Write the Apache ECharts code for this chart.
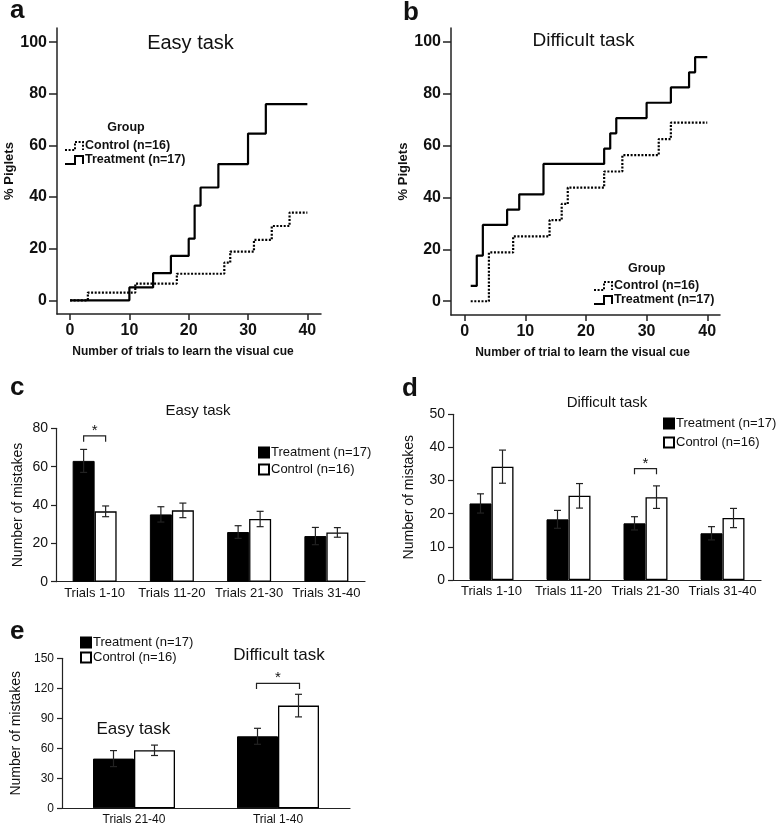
<!DOCTYPE html>
<html>
<head>
<meta charset="utf-8">
<script src="https://cdn.jsdelivr.net/npm/echarts@6/dist/echarts.min.js"></script>
<style>
html,body{margin:0;padding:0;background:#fff;}
#chart{width:777px;height:826px;}
</style>
</head>
<body>
<div id="chart"></div>
<script>
// ---------- DATA ----------
// Panel a: cumulative % piglets that learned, easy task (step change points)
const kmEasyTrtX  = [0, 10, 14, 17, 20, 21, 22, 25, 30, 33, 40];
const kmEasyTrtY  = [0, 5.0, 10.5, 17.2, 23.9, 36.7, 43.7, 52.8, 64.6, 76.0, 76.0];
const kmEasyCtrlX = [0, 3, 11, 18, 26, 27, 31, 34, 37, 40];
const kmEasyCtrlY = [0, 3.0, 6.5, 10.3, 14.6, 18.9, 23.4, 28.8, 34.0, 34.0];
// Panel b: difficult task
const kmDiffTrtX  = [1, 2, 3, 7, 9, 13, 23, 24, 25, 30, 34, 37, 38, 40];
const kmDiffTrtY  = [5.9, 17.6, 29.4, 35.3, 41.2, 52.9, 58.8, 64.7, 70.6, 76.5, 82.4, 88.2, 94.1, 94.1];
const kmDiffCtrlX = [1, 4, 8, 14, 16, 17, 23, 26, 32, 34, 40];
const kmDiffCtrlY = [0, 18.8, 25.0, 31.3, 37.5, 43.8, 50.0, 56.3, 62.5, 68.8, 68.8];
const pctTicks   = [0, 20, 40, 60, 80, 100];
const trialTicks = [0, 10, 20, 30, 40];

// Panels c, d: mistakes per block of trials
const blockCats    = ['Trials 1-10', 'Trials 11-20', 'Trials 21-30', 'Trials 31-40'];
const easyTrtMean  = [63.0, 35.1, 25.9, 23.8];
const easyTrtSem   = [6.0, 4.0, 3.3, 4.5];
const easyCtrlMean = [36.7, 37.2, 32.7, 25.7];
const easyCtrlSem  = [2.8, 3.8, 4.0, 2.5];
const diffTrtMean  = [23.1, 18.3, 17.1, 14.1];
const diffTrtSem   = [2.9, 2.7, 2.0, 2.0];
const diffCtrlMean = [34.2, 25.4, 25.0, 18.7];
const diffCtrlSem  = [5.0, 3.7, 3.4, 2.9];
// Panel e: total mistakes
const totalCats     = ['Trials 21-40', 'Trial 1-40'];
const totalTrtMean  = [49.7, 72.0];
const totalTrtSem   = [8.0, 8.0];
const totalCtrlMean = [58.0, 102.7];
const totalCtrlSem  = [5.2, 11.3];
// significance brackets: [category index, bracket top, bracket foot]
const sigC = [0, 76.1, 73.0];
const sigD = [2, 33.6, 31.9];
const sigE = [1, 125.0, 119.3];

const TRT = 'Treatment (n=17)';
const CTRL = 'Control (n=16)';

// ---------- HELPERS ----------
const FONT = "'Liberation Sans', Arial, sans-serif";
const INK = '#111';
function pairs(xs, ys) { return xs.map((x, i) => [x, ys[i]]); }

function kmXAxis(grid, min, max, name, pad) {
  return {
    type: 'value', gridIndex: grid, min: min, max: max,
    axisLine: {show: true, onZero: false, lineStyle: {color: '#222', width: 1.5}},
    axisTick: {show: true, length: 6, customValues: trialTicks, lineStyle: {color: '#222', width: 1.5}},
    axisLabel: {customValues: trialTicks, margin: 9, fontSize: 16, fontWeight: 'bold', color: INK, fontFamily: FONT},
    splitLine: {show: false},
    name: name, nameLocation: 'middle', nameGap: 32,
    nameTextStyle: {fontSize: 12, fontWeight: 'bold', color: INK, fontFamily: FONT, padding: pad}
  };
}
function kmYAxis(grid, min, max, gap) {
  return {
    type: 'value', gridIndex: grid, min: min, max: max,
    axisLine: {show: true, onZero: false, lineStyle: {color: '#222', width: 1.5}},
    axisTick: {show: true, length: 8, customValues: pctTicks, lineStyle: {color: '#222', width: 1.5}},
    axisLabel: {customValues: pctTicks, margin: 10, fontSize: 16, fontWeight: 'bold', color: INK, fontFamily: FONT},
    splitLine: {show: false},
    name: '% Piglets', nameLocation: 'middle', nameGap: gap, nameRotate: 90,
    nameTextStyle: {fontSize: 13, fontWeight: 'bold', color: INK, fontFamily: FONT}
  };
}
function catAxis(grid, cats, fs) {
  return {
    type: 'category', gridIndex: grid, data: cats,
    axisLine: {show: true, lineStyle: {color: '#222', width: 1.2}},
    axisTick: {show: false},
    axisLabel: {fontSize: fs, color: INK, fontFamily: FONT, margin: 5, interval: 0}
  };
}
function numAxis(grid, max, interval, fs, gap) {
  return {
    type: 'value', gridIndex: grid, min: 0, max: max, interval: interval,
    axisLine: {show: true, lineStyle: {color: '#222', width: 1.2}},
    axisTick: {show: true, length: 5, lineStyle: {color: '#222', width: 1.2}},
    axisLabel: {fontSize: fs, color: INK, fontFamily: FONT, margin: 8},
    splitLine: {show: false},
    name: 'Number of mistakes', nameLocation: 'middle', nameGap: gap, nameRotate: 90,
    nameTextStyle: {fontSize: 14, color: INK, fontFamily: FONT}
  };
}
function stepLine(grid, name, xs, ys, dotted) {
  return {
    type: 'line', name: name, xAxisIndex: grid, yAxisIndex: grid,
    step: 'end', symbol: 'none', silent: true,
    data: pairs(xs, ys),
    lineStyle: {color: '#000', width: 2.2, type: dotted ? [2, 1.6] : 'solid'},
    z: dotted ? 3 : 4
  };
}
function bars(grid, name, vals, w, ctrl) {
  return {
    type: 'bar', name: name, xAxisIndex: grid, yAxisIndex: grid,
    data: vals, barWidth: w, barGap: '0%',
    itemStyle: ctrl ? {color: '#fff', borderColor: '#000', borderWidth: 1.3}
                    : {color: '#000', borderColor: '#000', borderWidth: 1},
    silent: true
  };
}
function errBars(grid, means, sems, off) {
  return {
    type: 'custom', xAxisIndex: grid, yAxisIndex: grid, silent: true, z: 5,
    data: means.map((m, i) => [i, m, sems[i]]),
    encode: {x: 0, y: 1},
    renderItem: function (p, api) {
      const i = api.value(0), m = api.value(1), s = api.value(2);
      const hi = api.coord([i, m + s]), lo = api.coord([i, m - s]);
      const x = hi[0] + off, cap = 3.5;
      const st = {stroke: '#222', lineWidth: 1.2};
      return {type: 'group', children: [
        {type: 'line', shape: {x1: x, y1: hi[1], x2: x, y2: lo[1]}, style: st},
        {type: 'line', shape: {x1: x - cap, y1: hi[1], x2: x + cap, y2: hi[1]}, style: st},
        {type: 'line', shape: {x1: x - cap, y1: lo[1], x2: x + cap, y2: lo[1]}, style: st}
      ]};
    }
  };
}
function sigBracket(grid, sig, off) {
  return {
    type: 'custom', xAxisIndex: grid, yAxisIndex: grid, silent: true, z: 5,
    data: [sig], encode: {x: 0, y: 1},
    renderItem: function (p, api) {
      const top = api.coord([api.value(0), api.value(1)]);
      const foot = api.coord([api.value(0), api.value(2)]);
      const x1 = top[0] - off, x2 = top[0] + off;
      return {type: 'group', children: [
        {type: 'polyline', shape: {points: [[x1, foot[1]], [x1, top[1]], [x2, top[1]], [x2, foot[1]]]},
         style: {stroke: '#222', lineWidth: 1.2, fill: null}},
        {type: 'text', x: top[0], y: top[1] - 5,
         style: {text: '*', fontSize: 15, fontFamily: FONT, fill: INK, align: 'center', verticalAlign: 'middle'}}
      ]};
    }
  };
}
function txt(t, x, y, size, weight, align) {
  return {type: 'text', x: x, y: y, silent: true,
    style: {text: t, fontSize: size, fontWeight: weight || 'normal', fontFamily: FONT,
            fill: INK, align: align || 'left', verticalAlign: 'middle'}};
}
function stepIcon(x0, yb, dotted) {
  return {type: 'polyline', silent: true,
    shape: {points: [[x0, yb], [x0 + 10, yb], [x0 + 10, yb - 8], [x0 + 18, yb - 8], [x0 + 18, yb]]},
    style: {stroke: '#000', lineWidth: 2, fill: null, lineDash: dotted ? [2, 1.6] : null}};
}
function barLegend(left, top, gap) {
  return {
    orient: 'vertical', left: left, top: top, padding: 0, itemGap: gap,
    itemWidth: 10, itemHeight: 10, icon: 'rect', selectedMode: false,
    data: [TRT, CTRL],
    textStyle: {fontSize: 13, color: INK, fontFamily: FONT, padding: [0, 0, 0, -3]}
  };
}

// ---------- OPTION ----------
const option = {
  animation: false,
  backgroundColor: '#fff',
  textStyle: {fontFamily: FONT},
  grid: [
    {left: 57, top: 28, width: 264, height: 286},
    {left: 451, top: 28, width: 269, height: 287},
    {left: 56, top: 428.3, width: 309, height: 153.4},
    {left: 453, top: 414.3, width: 308, height: 165.7},
    {left: 62, top: 658.3, width: 288, height: 150}
  ],
  xAxis: [
    kmXAxis(0, -2.2, 42.3, 'Number of trials to learn the visual cue', [0, 12, 0, 0]),
    kmXAxis(1, -2.25, 42.1, 'Number of trial to learn the visual cue', [0, 6, 0, 0]),
    catAxis(2, blockCats, 13),
    catAxis(3, blockCats, 13),
    catAxis(4, totalCats, 12)
  ],
  yAxis: [
    kmYAxis(0, -5.3, 105.5, 40),
    kmYAxis(1, -5.3, 105.3, 39),
    numAxis(2, 80, 20, 14, 31),
    numAxis(3, 50, 10, 14, 37),
    numAxis(4, 150, 30, 12, 39)
  ],
  legend: [
    barLegend(258, 446, 4),
    barLegend(663, 417, 6),
    barLegend(80, 636, 2)
  ],
  series: [
    stepLine(0, 'Control curve (easy)', kmEasyCtrlX, kmEasyCtrlY, true),
    stepLine(0, 'Treatment curve (easy)', kmEasyTrtX, kmEasyTrtY, false),
    stepLine(1, 'Control curve (difficult)', kmDiffCtrlX, kmDiffCtrlY, true),
    stepLine(1, 'Treatment curve (difficult)', kmDiffTrtX, kmDiffTrtY, false),

    bars(2, TRT, easyTrtMean, 22, false),
    bars(2, CTRL, easyCtrlMean, 22, true),
    errBars(2, easyTrtMean, easyTrtSem, -11),
    errBars(2, easyCtrlMean, easyCtrlSem, 11),
    sigBracket(2, sigC, 11),

    bars(3, TRT, diffTrtMean, 22, false),
    bars(3, CTRL, diffCtrlMean, 22, true),
    errBars(3, diffTrtMean, diffTrtSem, -11),
    errBars(3, diffCtrlMean, diffCtrlSem, 11),
    sigBracket(3, sigD, 11),

    bars(4, TRT, totalTrtMean, 41, false),
    bars(4, CTRL, totalCtrlMean, 41, true),
    errBars(4, totalTrtMean, totalTrtSem, -20.5),
    errBars(4, totalCtrlMean, totalCtrlSem, 20.5),
    sigBracket(4, sigE, 21.5)
  ],
  graphic: [
    // panel letters
    txt('a', 10, 11, 26, 'bold'),
    txt('b', 403, 12.5, 26, 'bold'),
    txt('c', 10, 388, 26, 'bold'),
    txt('d', 402, 389, 26, 'bold'),
    txt('e', 10, 632, 26, 'bold'),
    // panel titles
    txt('Easy task', 190.5, 43, 20, 'normal', 'center'),
    txt('Difficult task', 583.5, 41, 19, 'normal', 'center'),
    txt('Easy task', 198, 411, 15, 'normal', 'center'),
    txt('Difficult task', 607, 403, 15, 'normal', 'center'),
    txt('Easy task', 133.3, 729, 17, 'normal', 'center'),
    txt('Difficult task', 279, 655, 17, 'normal', 'center'),
    // legend of panel a
    txt('Group', 126, 127.3, 12.5, 'bold', 'center'),
    stepIcon(65, 150, true),
    txt(CTRL, 85, 145.6, 12.5, 'bold'),
    stepIcon(65, 164, false),
    txt(TRT, 85, 160, 12.5, 'bold'),
    // legend of panel b
    txt('Group', 646.7, 269, 12.5, 'bold', 'center'),
    stepIcon(594, 290, true),
    txt(CTRL, 614, 285.6, 12.5, 'bold'),
    stepIcon(594, 304, false),
    txt(TRT, 614, 299.6, 12.5, 'bold')
  ]
};

const chart = echarts.init(document.getElementById('chart'), null, {renderer: 'canvas'});
chart.setOption(option);
</script>
</body>
</html>
